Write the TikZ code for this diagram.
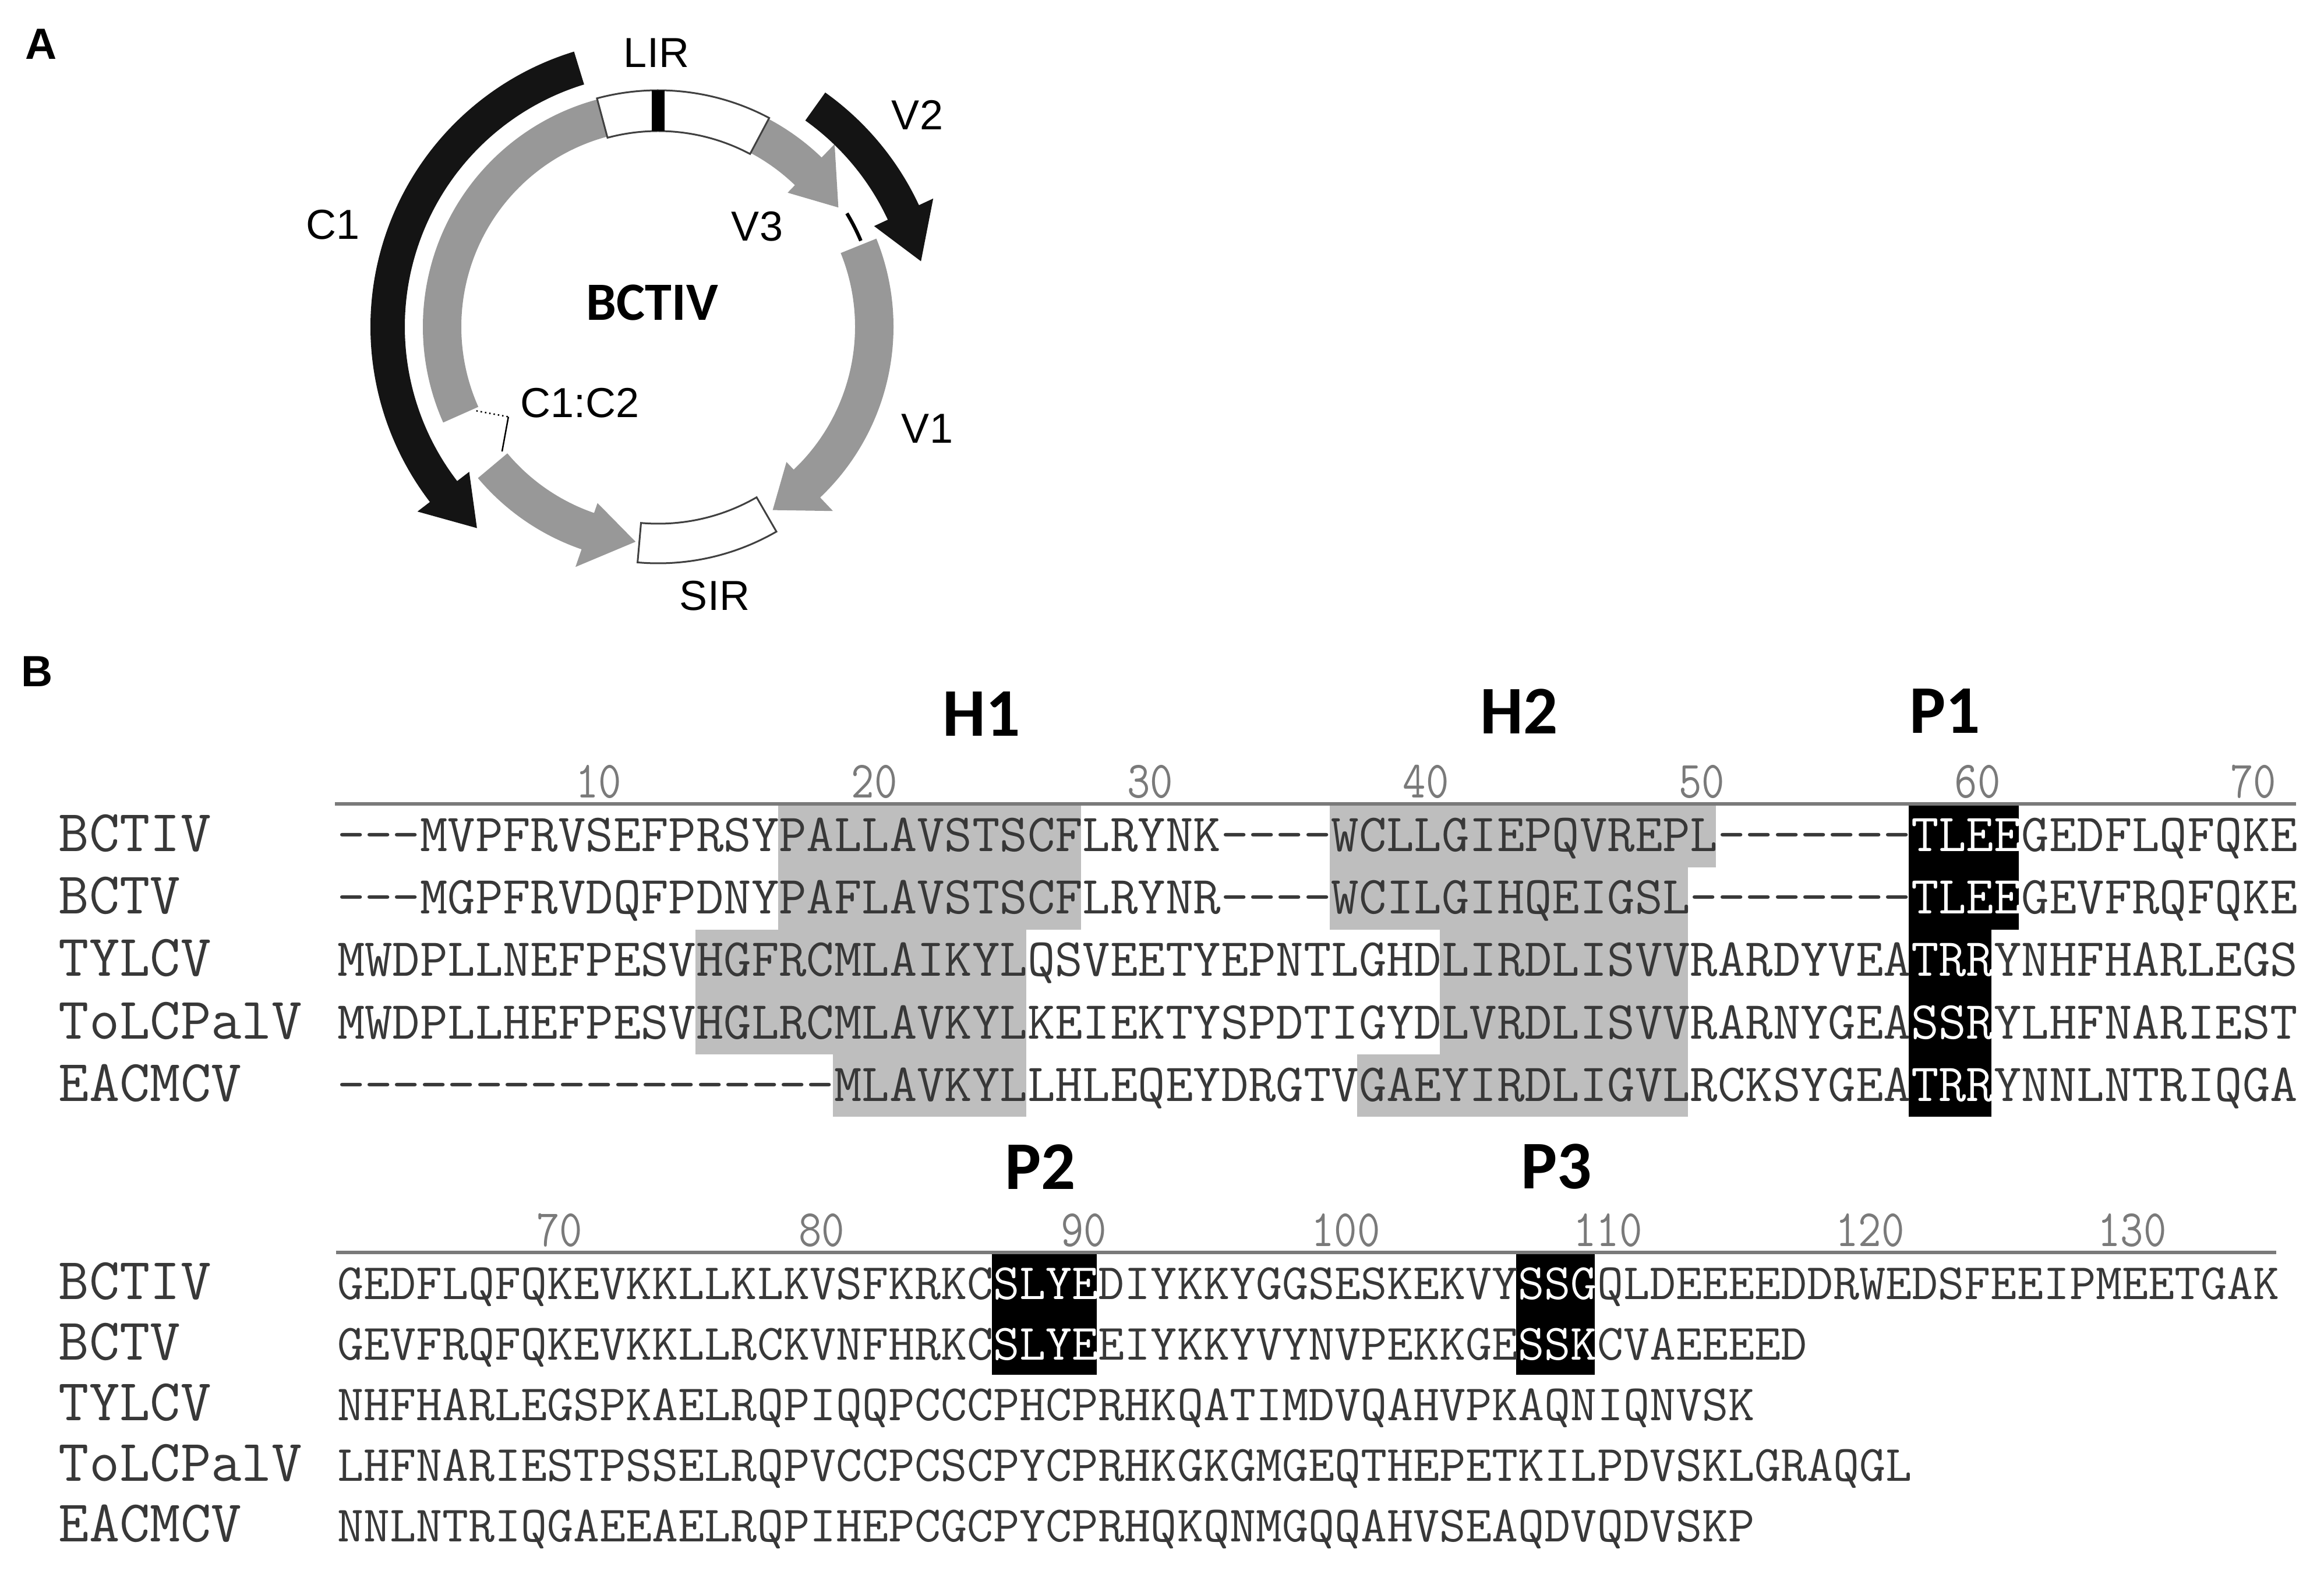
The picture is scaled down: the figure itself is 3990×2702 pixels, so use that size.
\documentclass[tikz,border=0pt]{standalone}
\usepackage{fontspec}
\setmainfont{Liberation Sans}
\newfontfamily\calfont{Carlito}

\definecolor{ringgray}{HTML}{989898}
\definecolor{boxgray}{HTML}{BEBEBE}
\definecolor{seqink}{HTML}{383838}
\definecolor{rulegray}{HTML}{7A7A7A}

\tikzset{
  seqA/.style={anchor=base west, inner sep=0pt, text=seqink, font=\fontsize{18.41}{20}\ttfamily},
  seqB/.style={anchor=base west, inner sep=0pt, text=seqink, font=\fontsize{17.5}{20}\ttfamily},
  virus/.style={anchor=base west, inner sep=0pt, text=seqink, font=\fontsize{20.3}{22}\ttfamily},
  rulenum/.style={anchor=south, inner sep=0pt, text=rulegray, font=\fontsize{18}{20}\ttfamily},
  motif/.style={inner sep=0pt, font=\fontsize{23.4}{26}\calfont\bfseries},
  genelabel/.style={inner sep=0pt, font=\fontsize{14.4}{16}\selectfont},
  panel/.style={inner sep=0pt, font=\fontsize{15}{17}\bfseries},
  regionbox/.style={draw=black!75, line width=0.6pt, fill=white},
}

\newcommand{\wt}[1]{\textcolor{white}{#1}}

\begin{document}
\begin{tikzpicture}[x=0.2pt,y=-0.2pt]
\useasboundingbox (0,0) rectangle (3990,2702);

% panel A: genome map
\node[panel] (pa) at (71,76) {A};
\begin{scope}[shift={(1130,561)}, yscale=-1]
  % gray ORFs
  \fill[ringgray] (105:404) arc[start angle=105, end angle=204, radius=404]
    -- (204:338) arc[start angle=204, end angle=105, radius=338] -- cycle;
  \fill[ringgray] (220:404) arc[start angle=220, end angle=251, radius=404]
    -- (251:436) -- (264:371) -- (251:320) -- (251:338)
    arc[start angle=251, end angle=220, radius=338] -- cycle;
  \fill[ringgray] (62:404) arc[start angle=62, end angle=46, radius=404]
    -- (46:436) -- (33.5:371) -- (46:320) -- (46:338)
    arc[start angle=46, end angle=62, radius=338] -- cycle;
  \fill[ringgray] (22:404) arc[start angle=22, end angle=-46.5, radius=404]
    -- (-46.5:436) -- (-58:371) -- (-46.5:320) -- (-46.5:338)
    arc[start angle=-46.5, end angle=22, radius=338] -- cycle;
  % black ORFs
  \fill[black!92] (107:494) arc[start angle=107, end angle=217.5, radius=494]
    -- (217.5:521) -- (228:465) -- (217.5:409) -- (217.5:435)
    arc[start angle=217.5, end angle=107, radius=435] -- cycle;
  \fill[black!92] (54.5:494) arc[start angle=54.5, end angle=25, radius=494]
    -- (25:521) -- (14:465) -- (25:409) -- (25:435)
    arc[start angle=25, end angle=54.5, radius=435] -- cycle;
  % intergenic regions
  \draw[regionbox] (62:406) arc[start angle=62, end angle=105, radius=406]
    -- (105:336) arc[start angle=105, end angle=62, radius=336] -- cycle;
  \draw[line width=4.4pt] (90:336) -- (90:406);
  \draw[regionbox] (265:406) arc[start angle=265, end angle=300, radius=406]
    -- (300:338) arc[start angle=300, end angle=265, radius=338] -- cycle;
  \draw[line width=1.2pt] (31:378) arc[start angle=31, end angle=23, radius=378];
  % splice junction
  \coordinate (c1end) at (204.8:344);
  \coordinate (splice) at (211:300);
  \coordinate (c2start) at (218.6:343);
  \draw[densely dotted, line width=0.5pt] (c1end) -- (splice);
  \draw[line width=0.5pt] (splice) -- (c2start);
\end{scope}
\node[genelabel] (lir) at (1127,91) {LIR};
\node[genelabel] (c1) at (572,386) {C1};
\node[genelabel] (v2) at (1575,197) {V2};
\node[genelabel] (v3) at (1300,389) {V3};
\node[genelabel] (v1) at (1592,736) {V1};
\node[genelabel] (sir) at (1227,1023) {SIR};
\node[genelabel] (c1c2) at (996,692) {C1:C2};
\node[inner sep=0pt, font=\fontsize{18.5}{20}\calfont\bfseries] (virname) at (1120,519) {BCTIV};

% panel B: alignment
\node[panel] (pb) at (64,1153) {B};

% block 1
\foreach \r/\a/\b in {0/17/27, 0/37/50, 1/17/27, 1/37/49, 2/14/25, 2/41/49,
                      3/14/25, 3/41/49, 4/19/25, 4/38/49}
  \fill[boxgray] ({578+(\a-1)*47.35},{1382+\r*107}) rectangle ({578+\b*47.35},{1382+(\r+1)*107});
\foreach \r/\a/\b in {0/58/61, 1/58/61, 2/58/60, 3/58/60, 4/58/60}
  \fill[black] ({578+(\a-1)*47.35},{1382+\r*107}) rectangle ({578+\b*47.35},{1382+(\r+1)*107});
\draw[rulegray, line width=1.2pt] (575,1380) -- (3942,1380);
\foreach \n in {10,20,...,70}
  \node[rulenum] (ra\n) at ({578+(\n-0.5)*47.35},1372) {\scalebox{0.85}[1]{\n}};
\node[motif] (h1) at (1685,1226) {H1};
\node[motif] (h2) at (2608,1221) {H2};
\node[motif] (p1) at (3339,1221) {P1};

\node[virus] (na1) at (100,1462) {BCTIV};
\node[virus] (na2) at (100,1569) {BCTV};
\node[virus] (na3) at (100,1676) {TYLCV};
\node[virus] (na4) at (100,1783) {ToLCPalV};
\node[virus] (na5) at (100,1890) {EACMCV};
\node[seqA] (sa1) at (578,1462) {---MVPFRVSEFPRSYPALLAVSTSCFLRYNK----WCLLGIEPQVREPL-------\wt{TLEE}GEDFLQFQKE};
\node[seqA] (sa2) at (578,1569) {---MGPFRVDQFPDNYPAFLAVSTSCFLRYNR----WCILGIHQEIGSL--------\wt{TLEE}GEVFRQFQKE};
\node[seqA] (sa3) at (578,1676) {MWDPLLNEFPESVHGFRCMLAIKYLQSVEETYEPNTLGHDLIRDLISVVRARDYVEA\wt{TRR}YNHFHARLEGS};
\node[seqA] (sa4) at (578,1783) {MWDPLLHEFPESVHGLRCMLAVKYLKEIEKTYSPDTIGYDLVRDLISVVRARNYGEA\wt{SSR}YLHFNARIEST};
\node[seqA] (sa5) at (578,1890) {------------------MLAVKYLLHLEQEYDRGTVGAEYIRDLIGVLRCKSYGEA\wt{TRR}YNNLNTRIQGA};

% block 2
\foreach \r/\a/\b in {0/26/29, 1/26/29, 0/46/48, 1/46/48}
  \fill[black] ({578+(\a-1)*45},{2152+\r*104}) rectangle ({578+\b*45},{2152+(\r+1)*104});
\draw[rulegray, line width=1.2pt] (577,2150) -- (3908,2150);
\foreach \n in {70,80,...,130}
  \node[rulenum] (rb\n) at ({578+(\n-61.5)*45},2142) {\scalebox{0.85}[1]{\n}};
\node[motif] (p2) at (1786,2003) {P2};
\node[motif] (p3) at (2672,2003) {P3};

\node[virus] (nb1) at (100,2230) {BCTIV};
\node[virus] (nb2) at (100,2334) {BCTV};
\node[virus] (nb3) at (100,2438) {TYLCV};
\node[virus] (nb4) at (100,2542) {ToLCPalV};
\node[virus] (nb5) at (100,2646) {EACMCV};
\node[seqB] (sb1) at (578,2230) {GEDFLQFQKEVKKLLKLKVSFKRKC\wt{SLYE}DIYKKYGGSESKEKVY\wt{SSG}QLDEEEEDDRWEDSFEEIPMEETGAK};
\node[seqB] (sb2) at (578,2334) {GEVFRQFQKEVKKLLRCKVNFHRKC\wt{SLYE}EIYKKYVYNVPEKKGE\wt{SSK}CVAEEEED};
\node[seqB] (sb3) at (578,2438) {NHFHARLEGSPKAELRQPIQQPCCCPHCPRHKQATIMDVQAHVPKAQNIQNVSK};
\node[seqB] (sb4) at (578,2542) {LHFNARIESTPSSELRQPVCCPCSCPYCPRHKGKGMGEQTHEPETKILPDVSKLGRAQGL};
\node[seqB] (sb5) at (578,2646) {NNLNTRIQGAEEAELRQPIHEPCGCPYCPRHQKQNMGQQAHVSEAQDVQDVSKP};
\end{tikzpicture}
\end{document}
